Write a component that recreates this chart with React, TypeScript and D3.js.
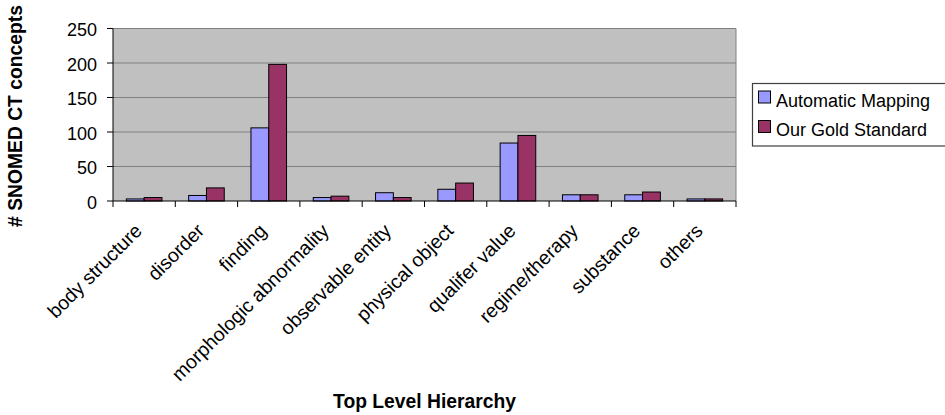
import React from "react";
import * as d3 from "d3";

const categories = [
  "body structure",
  "disorder",
  "finding",
  "morphologic abnormality",
  "observable entity",
  "physical object",
  "qualifer value",
  "regime/therapy",
  "substance",
  "others",
];
const seriesNames = ["Automatic Mapping", "Our Gold Standard"];
const automaticMapping = [3, 8, 106, 5, 12, 17, 84, 9, 9, 3];
const goldStandard = [5, 19, 198, 7, 5, 26, 95, 9, 13, 3];
const yTicks = [0, 50, 100, 150, 200, 250];
const seriesColors = ["#9999FF", "#993366"];

const W = 945;
const H = 415;
const plot = { left: 113, right: 736, top: 28.5, bottom: 201 };
const FONT = "'Liberation Sans', Arial, sans-serif";

export default function App() {
  const x = d3.scaleBand<string>().domain(categories).range([plot.left, plot.right]).padding(0);
  const inner = d3
    .scaleBand<string>()
    .domain(seriesNames)
    .range([0, x.bandwidth()])
    .paddingInner(0)
    .paddingOuter(0.75);
  const y = d3.scaleLinear().domain([0, 250]).range([plot.bottom, plot.top]);
  const seriesData = [automaticMapping, goldStandard];

  return (
    <svg
      width={W}
      height={H}
      style={{ position: "absolute", left: 0, top: 0, background: "#fff" }}
      fontFamily={FONT}
    >
      <rect
        x={plot.left}
        y={plot.top}
        width={plot.right - plot.left}
        height={plot.bottom - plot.top}
        fill="#C0C0C0"
      />
      {yTicks.map((t) => (
        <g key={t}>
          {t > 0 && (
            <line x1={plot.left} x2={plot.right} y1={y(t)} y2={y(t)} stroke="#808080" strokeWidth={1} />
          )}
          <line x1={plot.left - 6} x2={plot.left} y1={y(t)} y2={y(t)} stroke="#000" strokeWidth={1} />
          <text x={97} y={y(t)} dy="0.42em" textAnchor="end" fontSize={18} fill="#000">
            {t}
          </text>
        </g>
      ))}
      <line x1={plot.right} x2={plot.right} y1={plot.top} y2={plot.bottom} stroke="#808080" strokeWidth={1} />
      {seriesData.map((vals, si) =>
        vals.map((v, i) => (
          <rect
            key={`${si}-${i}`}
            x={(x(categories[i]) as number) + (inner(seriesNames[si]) as number)}
            y={y(v)}
            width={inner.bandwidth()}
            height={y(0) - y(v)}
            fill={seriesColors[si]}
            stroke="#000"
            strokeWidth={1}
          />
        ))
      )}
      <line x1={plot.left} x2={plot.left} y1={plot.top} y2={plot.bottom} stroke="#000" strokeWidth={1} />
      <line x1={plot.left} x2={plot.right} y1={plot.bottom} y2={plot.bottom} stroke="#000" strokeWidth={1} />
      {categories.map((c, i) => (
        <line
          key={`t${i}`}
          x1={(x(c) as number) + x.bandwidth()}
          x2={(x(c) as number) + x.bandwidth()}
          y1={plot.bottom}
          y2={plot.bottom + 6}
          stroke="#000"
        />
      ))}
      <line x1={plot.left} x2={plot.left} y1={plot.bottom} y2={plot.bottom + 6} stroke="#000" />
      {categories.map((c) => {
        const cx = (x(c) as number) + x.bandwidth() / 2;
        return (
          <text
            key={c}
            transform={`translate(${cx - 1},232) rotate(-45)`}
            textAnchor="end"
            fontSize={19.5}
            fill="#000"
          >
            {c}
          </text>
        );
      })}
      <text
        transform={`translate(22,116) rotate(-90)`}
        textAnchor="middle"
        fontSize={19.3}
        fontWeight="bold"
        fill="#000"
      >
        # SNOMED CT concepts
      </text>
      <text x={(plot.left + plot.right) / 2} y={408} textAnchor="middle" fontSize={19.3} fontWeight="bold" fill="#000">
        Top Level Hierarchy
      </text>
      <rect x={752.5} y={83.5} width={220} height={62.5} fill="#fff" stroke="#404040" strokeWidth={1.2} />
      {seriesNames.map((s, i) => (
        <g key={s}>
          <rect x={758.5} y={91 + i * 29.5} width={12} height={12} fill={seriesColors[i]} stroke="#000" strokeWidth={1} />
          <text x={776} y={106.5 + i * 29.5} fontSize={18} fill="#000">
            {s}
          </text>
        </g>
      ))}
    </svg>
  );
}
